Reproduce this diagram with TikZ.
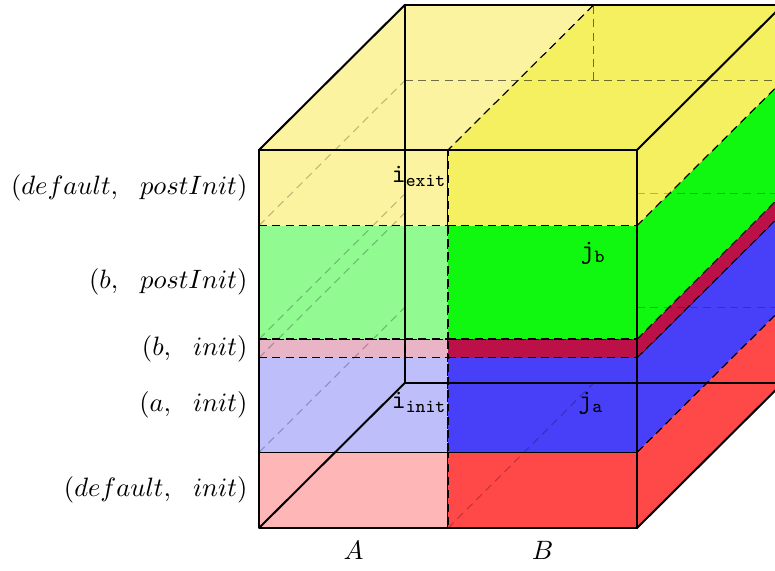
\documentclass[tikz,border=0pt]{standalone}
\usepackage{amsmath,amssymb}
\usepackage{tikz}
\usetikzlibrary{positioning,calc}
\definecolor{DefInit}{RGB}{255,72,72}
\definecolor{DefInitLight}{RGB}{255,182,182}
\definecolor{AInit}{RGB}{72,64,248}
\definecolor{AInitLight}{RGB}{190,190,250}
\definecolor{BInit}{RGB}{187,17,72}
\definecolor{BInitLight}{RGB}{232,180,198}
\definecolor{BPost}{RGB}{16,248,16}
\definecolor{BPostLight}{RGB}{145,250,145}
\definecolor{DefPost}{RGB}{245,240,96}
\definecolor{DefPostLight}{RGB}{252,243,160}
\tikzset{
  face/.style={draw=black,densely dashed,line width=0.4pt},
  hidden/.style={draw=black,densely dashed,line width=0.4pt,draw opacity=0.25},
  hiddenmid/.style={hidden,draw opacity=0.55},
  frame/.style={draw=black,line width=0.75pt,line join=round},
  lev/.style={anchor=east},
  tag/.style={inner sep=1pt},
}
% front face of one box: x0, x1, y0, y1, colour
\newcommand{\frontbox}[5]{%
  \filldraw[face,fill=#5] (#1,#3,0) -- (#2,#3,0) -- (#2,#4,0) -- (#1,#4,0) -- cycle;}
% right face of the column B: y0, y1, colour
\newcommand{\sidebox}[3]{%
  \filldraw[face,fill=#3] (5,#1,0) -- (5,#1,5) -- (5,#2,5) -- (5,#2,0) -- cycle;}

\begin{document}
\begin{tikzpicture}[x=1cm,y=1cm,z={(0.386cm,0.384cm)}]
\useasboundingbox (-3.426,-0.556) rectangle (6.825,6.984);
\clip (-3.426,-0.556) rectangle (6.825,6.984);
% layers, bottom to top
\frontbox{0}{2.5}{0}{1}{DefInitLight}
\frontbox{2.5}{5}{0}{1}{DefInit}
\sidebox{0}{1}{DefInit}
\frontbox{0}{2.5}{1}{2.25}{AInitLight}
\frontbox{2.5}{5}{1}{2.25}{AInit}
\sidebox{1}{2.25}{AInit}
\frontbox{0}{2.5}{2.25}{2.5}{BInitLight}
\frontbox{2.5}{5}{2.25}{2.5}{BInit}
\sidebox{2.25}{2.5}{BInit}
\frontbox{0}{2.5}{2.5}{4}{BPostLight}
\frontbox{2.5}{5}{2.5}{4}{BPost}
\sidebox{2.5}{4}{BPost}
\frontbox{0}{2.5}{4}{5}{DefPostLight}
\frontbox{2.5}{5}{4}{5}{DefPost}
\sidebox{4}{5}{DefPost}
% top of the cube
\filldraw[face,fill=DefPostLight] (0,5,0) -- (2.5,5,0) -- (2.5,5,5) -- (0,5,5) -- cycle;
\filldraw[face,fill=DefPost] (2.5,5,0) -- (5,5,0) -- (5,5,5) -- (2.5,5,5) -- cycle;
% hidden edges seen through the faces
\draw[hidden] (0,1,0) -- (0,1,5);
\draw[hidden] (0,2.25,0) -- (0,2.25,5);
\draw[hidden] (0,2.5,0) -- (0,2.5,5);
\draw[hidden] (0,4,0) -- (0,4,5);
\draw[hidden] (2.5,0,0) -- (2.5,0,5);
\draw[hidden] (3.07,1,5) -- (5,1,5);
\draw[hidden] (3.07,2.5,5) -- (5,2.5,5);
\draw[hiddenmid] (0,4,5) -- (5,4,5);
\draw[hiddenmid] (2.5,4,5) -- (2.5,5,5);
% cube
\coordinate (c000) at (0,0,0);
\coordinate (c100) at (5,0,0);
\coordinate (c110) at (5,5,0);
\coordinate (c010) at (0,5,0);
\coordinate (c001) at (0,0,5);
\coordinate (c101) at (5,0,5);
\coordinate (c111) at (5,5,5);
\coordinate (c011) at (0,5,5);
\draw[frame] (c000)--(c100)--(c110)--(c010)--cycle;
\draw[frame] (c001)--(c101)--(c111)--(c011)--cycle;
\draw[frame] (c000)--(c001);
\draw[frame] (c100)--(c101);
\draw[frame] (c110)--(c111);
\draw[frame] (c010)--(c011);
% labels
\node[lev] (lvDefPost) at (-0.03,4.5) {$(default,\ \ postInit)$};
\node[lev] (lvBPost) at (-0.03,3.25) {$(b,\ \ postInit)$};
\node[lev] (lvBInit) at (-0.03,2.375) {$(b,\ \ init)$};
\node[lev] (lvAInit) at (-0.03,1.625) {$(a,\ \ init)$};
\node[lev] (lvDefInit) at (-0.03,0.5) {$(default,\ \ init)$};
\node (colA) at (1.25,-0.3) {$A$};
\node (colB) at (3.75,-0.3) {$B$};
\node[tag] (iExit) at (2.12,4.65) {$\mathtt{i}_{\mathtt{exit}}$};
\node[tag] (iInit) at (2.12,1.66) {$\mathtt{i}_{\mathtt{init}}$};
\node[tag] (jB) at (4.42,3.63) {$\mathtt{j}_{\mathtt{b}}$};
\node[tag] (jA) at (4.39,1.65) {$\mathtt{j}_{\mathtt{a}}$};
\end{tikzpicture}
\end{document}
